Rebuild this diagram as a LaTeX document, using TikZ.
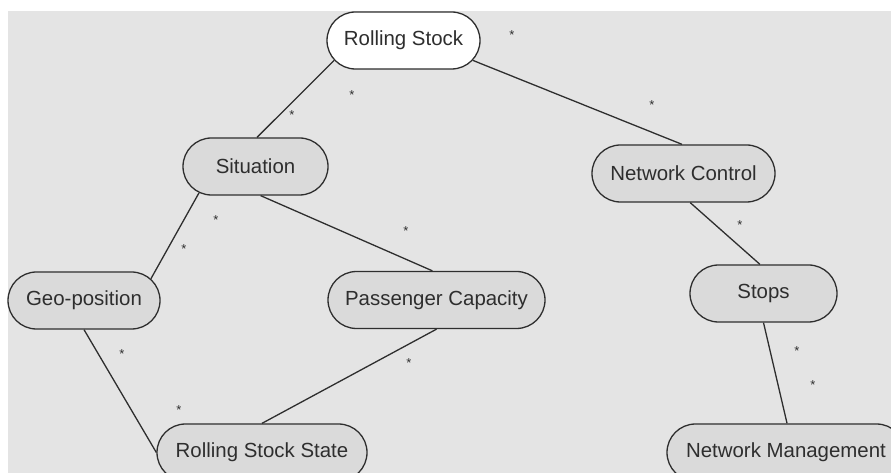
\documentclass[tikz,border=0pt]{standalone}
\usepackage{fontspec}
\setmainfont{Liberation Sans}
\usetikzlibrary{positioning,shapes.misc}
\definecolor{bggray}{HTML}{E4E4E4}
\definecolor{boxgray}{HTML}{DADADA}
\definecolor{ink}{HTML}{2E2E2E}

\begin{document}
\begin{tikzpicture}[x=1bp,y=-1bp]
\tikzstyle{box}=[rounded rectangle,draw=ink,line width=1.3bp,minimum height=57bp,inner sep=0pt,fill=boxgray,text=ink,font=\fontsize{20.5}{24}\selectfont]
\tikzstyle{mult}=[text=ink,inner sep=0pt,yshift=-2.8bp,font=\fontsize{13}{15}\selectfont]
\tikzstyle{link}=[draw=ink,line width=1.3bp]
\useasboundingbox (0,0) rectangle (891,473);
\clip (0,0) rectangle (891,473);
\fill[white] (0,0) rectangle (891,473);
\fill[bggray] (8,11) rectangle (891,473);

% classes
\node[box,fill=white,minimum width=153bp] (rs) at (403.5,40.5) {Rolling Stock};
\node[box,minimum width=145bp] (sit) at (255.5,166.5) {Situation};
\node[box,minimum width=183bp] (nc) at (683.5,173.5) {Network Control};
\node[box,minimum width=152bp] (geo) at (84,300.5) {Geo-position};
\node[box,minimum width=217bp] (pc) at (436.5,300) {Passenger Capacity};
\node[box,minimum width=147bp] (stops) at (763.5,293.5) {Stops};
\node[box,minimum width=210bp] (rss) at (262,452.5) {Rolling Stock State};
\node[box,minimum width=238bp] (nm) at (786,452.5) {Network Management};

% associations
\draw[link] (rs.196) -- (sit.87);
\draw[link] (rs.344) -- (nc.93);
\draw[link] (sit.205) -- (geo.18);
\draw[link] (sit.280) -- (pc.98);
\draw[link] (geo.270) -- (rss.180);
\draw[link] (pc.270) -- (rss.90);
\draw[link] (nc.283) -- (stops.97);
\draw[link] (stops.270) -- (nm.88);

% multiplicities
\node[mult] (m1) at (512,32) {*};
\node[mult] (m2) at (352,92) {*};
\node[mult] (m3) at (292,112) {*};
\node[mult] (m4) at (216,217) {*};
\node[mult] (m5) at (184,246) {*};
\node[mult] (m6) at (406,228) {*};
\node[mult] (m7) at (652,102) {*};
\node[mult] (m8) at (740,222) {*};
\node[mult] (m9) at (122,351) {*};
\node[mult] (m10) at (179,407) {*};
\node[mult] (m11) at (409,360) {*};
\node[mult] (m12) at (797,348) {*};
\node[mult] (m13) at (813,382) {*};
\end{tikzpicture}
\end{document}
